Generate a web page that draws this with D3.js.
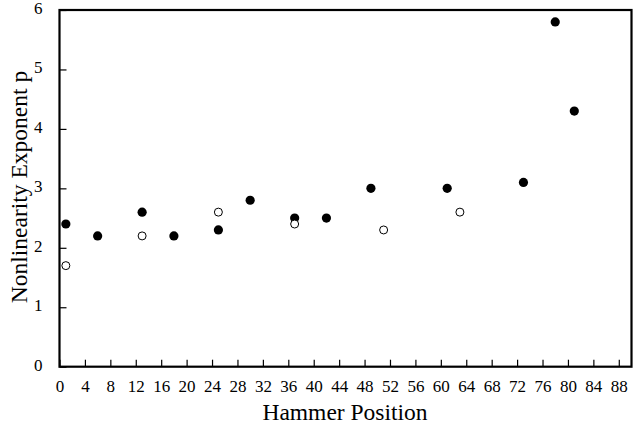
<!DOCTYPE html>
<html><head><meta charset="utf-8">
<script src="https://cdn.jsdelivr.net/npm/d3@7"></script>
<style>
body{margin:0;background:#fff}svg{display:block}
</style>
</head><body>
<svg id="c" width="640" height="427"></svg>
<script>
const filledX = [1, 6, 13, 18, 25, 30, 37, 42, 49, 61, 73, 78, 81];
const filledY = [2.4, 2.2, 2.6, 2.2, 2.3, 2.8, 2.5, 2.5, 3.0, 3.0, 3.1, 5.8, 4.3];
const openX = [1, 13, 25, 37, 51, 63];
const openY = [1.7, 2.2, 2.6, 2.4, 2.3, 2.6];
const xTicks = d3.range(0, 89, 4);
const yTicks = [0, 1, 2, 3, 4, 5, 6];
const xTitle = "Hammer Position";
const yTitle = "Nonlinearity Exponent p";

const FONT = '"Liberation Serif", "DejaVu Serif", "Times New Roman", Times, serif';
const svg = d3.select("#c");
const L = 59.5, R = 631.5, T = 10, B = 366.7;
const x = d3.scaleLinear().domain([0, 90]).range([L, R]);
const y = d3.scaleLinear().domain([0, 6]).range([B, T]);

// ticks
const xa = svg.append("g").attr("transform", `translate(0,${B})`)
  .call(d3.axisBottom(x).tickValues(xTicks).tickFormat(d3.format("d")).tickSizeInner(-7).tickSizeOuter(0).tickPadding(13));
const ya = svg.append("g").attr("transform", `translate(${L},0)`)
  .call(d3.axisLeft(y).tickValues(yTicks).tickFormat(d3.format("d")).tickSizeInner(-7).tickSizeOuter(0).tickPadding(17));
[xa, ya].forEach(a => {
  a.attr("font-family", null).style("font-family", FONT);
  a.select(".domain").remove();
  a.selectAll("line").attr("stroke", "#000").attr("stroke-width", 1.2);
  a.selectAll("text").style("font-family", FONT).attr("font-size", 17).attr("fill", "#000");
});
xa.selectAll("text").attr("dy", "0.71em");
ya.selectAll("text").attr("dy", "0.2em");

// frame
svg.append("rect").attr("x", L).attr("y", T).attr("width", R - L).attr("height", B - T)
  .attr("fill", "none").attr("stroke", "#000").attr("stroke-width", 2.2);

// points
svg.append("g").selectAll("circle").data(filledX).join("circle")
  .attr("cx", (d) => x(d)).attr("cy", (d, i) => y(filledY[i])).attr("r", 4.6).attr("fill", "#000");
svg.append("g").selectAll("circle").data(openX).join("circle")
  .attr("cx", (d) => x(d)).attr("cy", (d, i) => y(openY[i])).attr("r", 4).attr("fill", "#fff")
  .attr("stroke", "#000").attr("stroke-width", 1);

// titles
svg.append("text").attr("x", 345).attr("y", 420).attr("text-anchor", "middle")
  .style("font-family", FONT).attr("font-size", 23.5).text(xTitle);
svg.append("text").attr("transform", "translate(27,187) rotate(-90)").attr("text-anchor", "middle")
  .style("font-family", FONT).attr("font-size", 23.5).text(yTitle);
</script>
</body></html>
